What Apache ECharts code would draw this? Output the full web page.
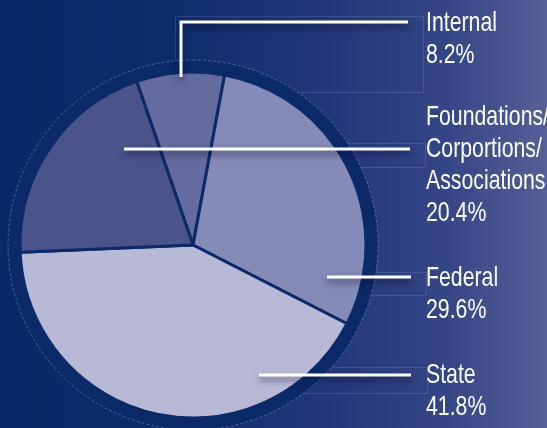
<!DOCTYPE html>
<html>
<head>
<meta charset="utf-8">
<script src="https://cdn.jsdelivr.net/npm/echarts@6/dist/echarts.min.js"></script>
<style>
  html, body { margin: 0; padding: 0; }
  #chart { width: 547px; height: 428px; }
</style>
</head>
<body>
<div id="chart"></div>
<script>
// slices in clockwise order starting at the top
const categories = ['Internal', 'Federal', 'State', 'Foundations/\nCorportions/\nAssociations'];
const shares = [8.2, 29.6, 41.8, 20.4];
const sliceColors = ['#646b9e', '#858bb8', '#b8b9d7', '#4a548b'];

// label placement (top of text block) and leader lines, same order as above
const labelX = 426;
const labelTops = [7, 262, 359, 101];
const leaders = [
  [[181, 77], [181, 22], [408, 22]],
  [[327, 277], [411, 277]],
  [[259, 375], [411, 375]],
  [[124, 149], [410, 149]]
];
// faint boxes sitting behind each label
const boxes = [
  [175, 16, 248, 76],
  [300, 272, 126, 23],
  [250, 367, 177, 26],
  [250, 143, 175, 24]
];

const navy = '#0c2968';
const chart = echarts.init(document.getElementById('chart'));

const graphics = [];
boxes.forEach(function (b) {
  graphics.push({
    type: 'rect', z: 0,
    shape: { x: b[0] + 0.5, y: b[1] + 0.5, width: b[2], height: b[3] },
    style: { fill: null, stroke: 'rgba(190,200,240,0.16)', lineWidth: 1 }
  });
});
leaders.forEach(function (pts) {
  graphics.push({
    type: 'polyline', z: 50,
    shape: { points: pts },
    style: {
      stroke: '#ffffff', lineWidth: 3,
      shadowColor: 'rgba(0,0,30,0.55)', shadowBlur: 6, shadowOffsetY: 4
    }
  });
});
categories.forEach(function (name, i) {
  graphics.push({
    type: 'text', z: 60,
    x: labelX, y: labelTops[i], scaleX: 0.76,
    style: {
      text: name + '\n' + shares[i] + '%',
      fill: '#ffffff',
      font: '28px "Liberation Sans", Arial, sans-serif',
      lineHeight: 32,
      verticalAlign: 'top',
      align: 'left'
    }
  });
});

chart.setOption({
  backgroundColor: new echarts.graphic.LinearGradient(0, 0, 1, 0, [
    { offset: 0, color: '#0a2867' },
    { offset: 0.3, color: '#0e2b6a' },
    { offset: 0.6, color: '#22377a' },
    { offset: 0.82, color: '#354686' },
    { offset: 1, color: '#565f97' }
  ]),
  animation: false,
  graphic: graphics,
  series: [
    { // dark rim round the pie
      type: 'pie',
      center: [193, 245],
      radius: [0, 185],
      silent: true,
      label: { show: false },
      labelLine: { show: false },
      itemStyle: {
        color: navy,
        borderColor: 'rgba(170,180,220,0.4)',
        borderWidth: 1,
        borderType: [3, 2]
      },
      data: [{ value: 1 }]
    },
    {
      type: 'pie',
      center: [193, 245],
      radius: [0, 173],
      startAngle: 109,
      clockwise: true,
      label: { show: false },
      labelLine: { show: false },
      itemStyle: { borderColor: navy, borderWidth: 3 },
      data: categories.map(function (name, i) {
        return { name: name, value: shares[i], itemStyle: { color: sliceColors[i] } };
      })
    }
  ]
});
</script>
</body>
</html>
